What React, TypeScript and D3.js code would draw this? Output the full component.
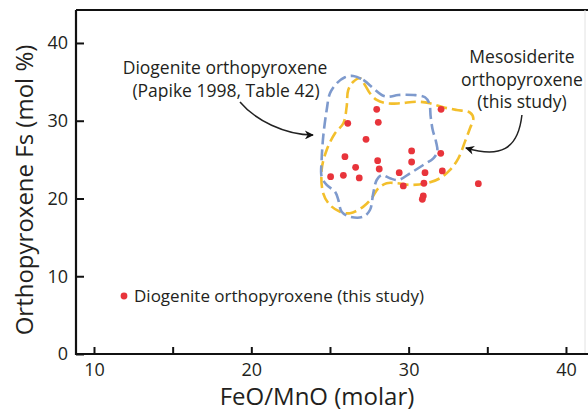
import { useEffect, useRef } from 'react';
import * as d3 from 'd3';

// Diogenite orthopyroxene (this study): FeO/MnO vs Fs
const dotFeMn = [27.97, 32.06, 26.13, 28.07, 27.29, 30.19, 32.04, 25.95, 28.03, 30.19, 26.63, 28.13,
  32.14, 29.40, 31.04, 25.04, 25.85, 26.86, 29.66, 30.97, 34.43, 30.93, 30.87];
const dotFs = [31.47, 31.47, 29.67, 29.8, 27.61, 26.11, 25.81, 25.38, 24.86, 24.69, 24.01, 23.79,
  23.54, 23.32, 23.32, 22.8, 22.98, 22.64, 21.61, 21.96, 21.9, 20.32, 19.9];

// Diogenite orthopyroxene field (Papike 1998)
const papikeFeMn = [26.48, 27.12, 27.75, 28.29, 28.71, 29.34, 30.3, 31.04, 31.31, 31.4, 31.53, 31.74,
  31.82, 31.57, 30.93, 30.09, 29.34, 28.81, 28.29, 27.97, 27.75, 27.54, 27.12, 26.27, 25.74, 25.53,
  25.32, 24.79, 24.47, 24.47, 24.57, 24.79, 25.0, 25.43, 25.95];
const papikeFs = [35.76, 35.24, 34.17, 33.31, 33.09, 33.31, 33.31, 33.02, 32.24, 30.52, 28.81, 27.31,
  26.02, 25.17, 24.31, 23.24, 22.38, 22.6, 23.02, 22.38, 20.67, 18.52, 17.66, 17.66, 18.3, 19.81,
  20.87, 21.74, 22.8, 24.95, 27.95, 31.38, 33.53, 34.82, 35.59];

// Mesosiderite orthopyroxene field (this study)
const mesoFeMn = [26.91, 27.22, 27.54, 27.97, 28.6, 29.45, 30.51, 31.36, 32.2, 33.05, 33.9, 34.11,
  33.9, 33.58, 33.16, 32.63, 31.99, 31.15, 30.09, 29.24, 28.6, 28.07, 27.65, 27.12, 26.27, 25.64,
  25.0, 24.57, 24.47, 24.79, 25.32, 25.85, 26.06, 26.16, 26.48];
const mesoFs = [35.46, 34.6, 33.53, 32.67, 32.24, 32.24, 32.45, 32.24, 31.73, 31.38, 31.04, 30.32,
  29.03, 27.31, 25.17, 23.67, 22.6, 21.96, 21.74, 21.96, 21.96, 21.31, 20.03, 18.95, 18.1, 18.3,
  19.16, 20.67, 23.67, 26.24, 28.39, 29.67, 31.81, 33.95, 35.02];

const xTicks = [10, 15, 20, 25, 30, 35, 40];
const xLabels = [10, 20, 30, 40];
const yTicks = [0, 10, 20, 30, 40];

// annotation arrows (start, ctrl1, ctrl2, end) in data units
const arrowPapike = [[19.28, 32.41], [20.23, 30.1], [22.14, 28.17], [23.92, 28.17]];
const arrowMeso = [[37.2, 30.74], [36.95, 26.24], [35.81, 25.21], [33.64, 26.5]];

const W = 588;
const H = 412;
const FONT = '"Open Sans", "Noto Sans", sans-serif';
const TEXT = '#231f20';

export default function App() {
  const svgRef = useRef<SVGSVGElement | null>(null);

  useEffect(() => {
    const svg = d3.select(svgRef.current);
    svg.selectAll('*').remove();

    const left = 76, right = 588, top = 10, bottom = 354;
    const x = d3.scaleLinear().domain([8.856, 41.4]).range([left, right]);
    const y = d3.scaleLinear().domain([0, 44.24]).range([bottom, top]);

    const defs = svg.append('defs');
    defs.append('marker')
      .attr('id', 'head')
      .attr('viewBox', '0 0 10 10')
      .attr('refX', 9)
      .attr('refY', 5)
      .attr('markerWidth', 11)
      .attr('markerHeight', 9)
      .attr('markerUnits', 'userSpaceOnUse')
      .attr('orient', 'auto')
      .append('path')
      .attr('d', 'M0,0 L10,5 L0,10 L3,5 Z')
      .attr('fill', '#111');

    // frame: top + faint right
    svg.append('line')
      .attr('x1', left).attr('x2', right).attr('y1', top).attr('y2', top)
      .attr('stroke', '#111').attr('stroke-width', 2);
    svg.append('line')
      .attr('x1', right - 3).attr('x2', right - 3).attr('y1', top).attr('y2', bottom)
      .attr('stroke', '#e2e2e2').attr('stroke-width', 1);

    // x axis
    const xAxis = svg.append('g')
      .attr('transform', `translate(0,${bottom})`)
      .call(d3.axisBottom(x)
        .tickValues(xTicks)
        .tickSize(-7)
        .tickPadding(9)
        .tickFormat(d => (xLabels.includes(+d) ? String(d) : '')));
    xAxis.select('.domain').remove();
    xAxis.selectAll('line').attr('stroke', '#111').attr('stroke-width', 2);
    xAxis.selectAll('text')
      .attr('font-family', FONT).attr('font-size', 18).attr('fill', TEXT);

    const yAxis = svg.append('g')
      .attr('transform', `translate(${left},0)`)
      .call(d3.axisLeft(y)
        .tickValues(yTicks)
        .tickSize(-8)
        .tickPadding(8));
    yAxis.select('.domain').remove();
    yAxis.selectAll('line').attr('stroke', '#111').attr('stroke-width', 2);
    yAxis.selectAll('text')
      .attr('font-family', FONT).attr('font-size', 18).attr('fill', TEXT);

    // axis lines
    svg.append('path')
      .attr('d', `M${left},${top} V${bottom} H${right}`)
      .attr('fill', 'none').attr('stroke', '#111').attr('stroke-width', 2.2);

    // fields
    const contour = d3.line<number>()
      .curve(d3.curveCatmullRomClosed.alpha(0.5));
    const drawField = (xs: number[], ys: number[], color: string) => {
      svg.append('path')
        .attr('d', contour.x((_, i) => x(xs[i])).y((_, i) => y(ys[i]))(xs))
        .attr('fill', 'none')
        .attr('stroke', color)
        .attr('stroke-width', 2.6)
        .attr('stroke-dasharray', '11 5');
    };
    drawField(mesoFeMn, mesoFs, '#f3bf2c');
    drawField(papikeFeMn, papikeFs, '#7e9acd');

    // points
    svg.append('g')
      .selectAll('circle')
      .data(dotFeMn)
      .join('circle')
      .attr('cx', d => x(d))
      .attr('cy', (_, i) => y(dotFs[i]))
      .attr('r', 3.4)
      .attr('fill', '#e8343b');

    // arrows
    const drawArrow = (pts: number[][]) => {
      const p = pts.map(([a, b]) => [x(a), y(b)]);
      const path = d3.path();
      path.moveTo(p[0][0], p[0][1]);
      path.bezierCurveTo(p[1][0], p[1][1], p[2][0], p[2][1], p[3][0], p[3][1]);
      svg.append('path')
        .attr('d', path.toString())
        .attr('fill', 'none')
        .attr('stroke', '#222')
        .attr('stroke-width', 1.5)
        .attr('marker-end', 'url(#head)');
    };
    drawArrow(arrowPapike);
    drawArrow(arrowMeso);

    // annotation text
    const label = (tx: number, ty: number, s: string) =>
      svg.append('text')
        .attr('x', tx).attr('y', ty)
        .attr('text-anchor', 'middle')
        .attr('font-family', FONT).attr('font-size', 17.5)
        .attr('fill', TEXT)
        .text(s);
    label(225, 74, 'Diogenite orthopyroxene');
    label(226, 97, '(Papike 1998, Table 42)');
    label(522, 63, 'Mesosiderite');
    label(522, 86, 'orthopyroxene');
    label(522, 108, '(this study)');

    // legend
    svg.append('circle').attr('cx', 124).attr('cy', 296).attr('r', 3.4).attr('fill', '#e8343b');
    svg.append('text')
      .attr('x', 134).attr('y', 302)
      .attr('font-family', FONT).attr('font-size', 17)
      .attr('fill', TEXT)
      .text('Diogenite orthopyroxene (this study)');

    // axis titles
    svg.append('text')
      .attr('x', 317).attr('y', 405)
      .attr('text-anchor', 'middle')
      .attr('font-family', FONT).attr('font-size', 24)
      .attr('fill', TEXT)
      .text('FeO/MnO (molar)');
    svg.append('text')
      .attr('transform', 'translate(33,190) rotate(-90)')
      .attr('text-anchor', 'middle')
      .attr('font-family', FONT).attr('font-size', 24)
      .attr('fill', TEXT)
      .text('Orthopyroxene Fs (mol %)');
  }, []);

  return (
    <svg
      ref={svgRef}
      width={W}
      height={H}
      style={{ position: 'absolute', left: 0, top: 0, background: '#fff' }}
    />
  );
}
